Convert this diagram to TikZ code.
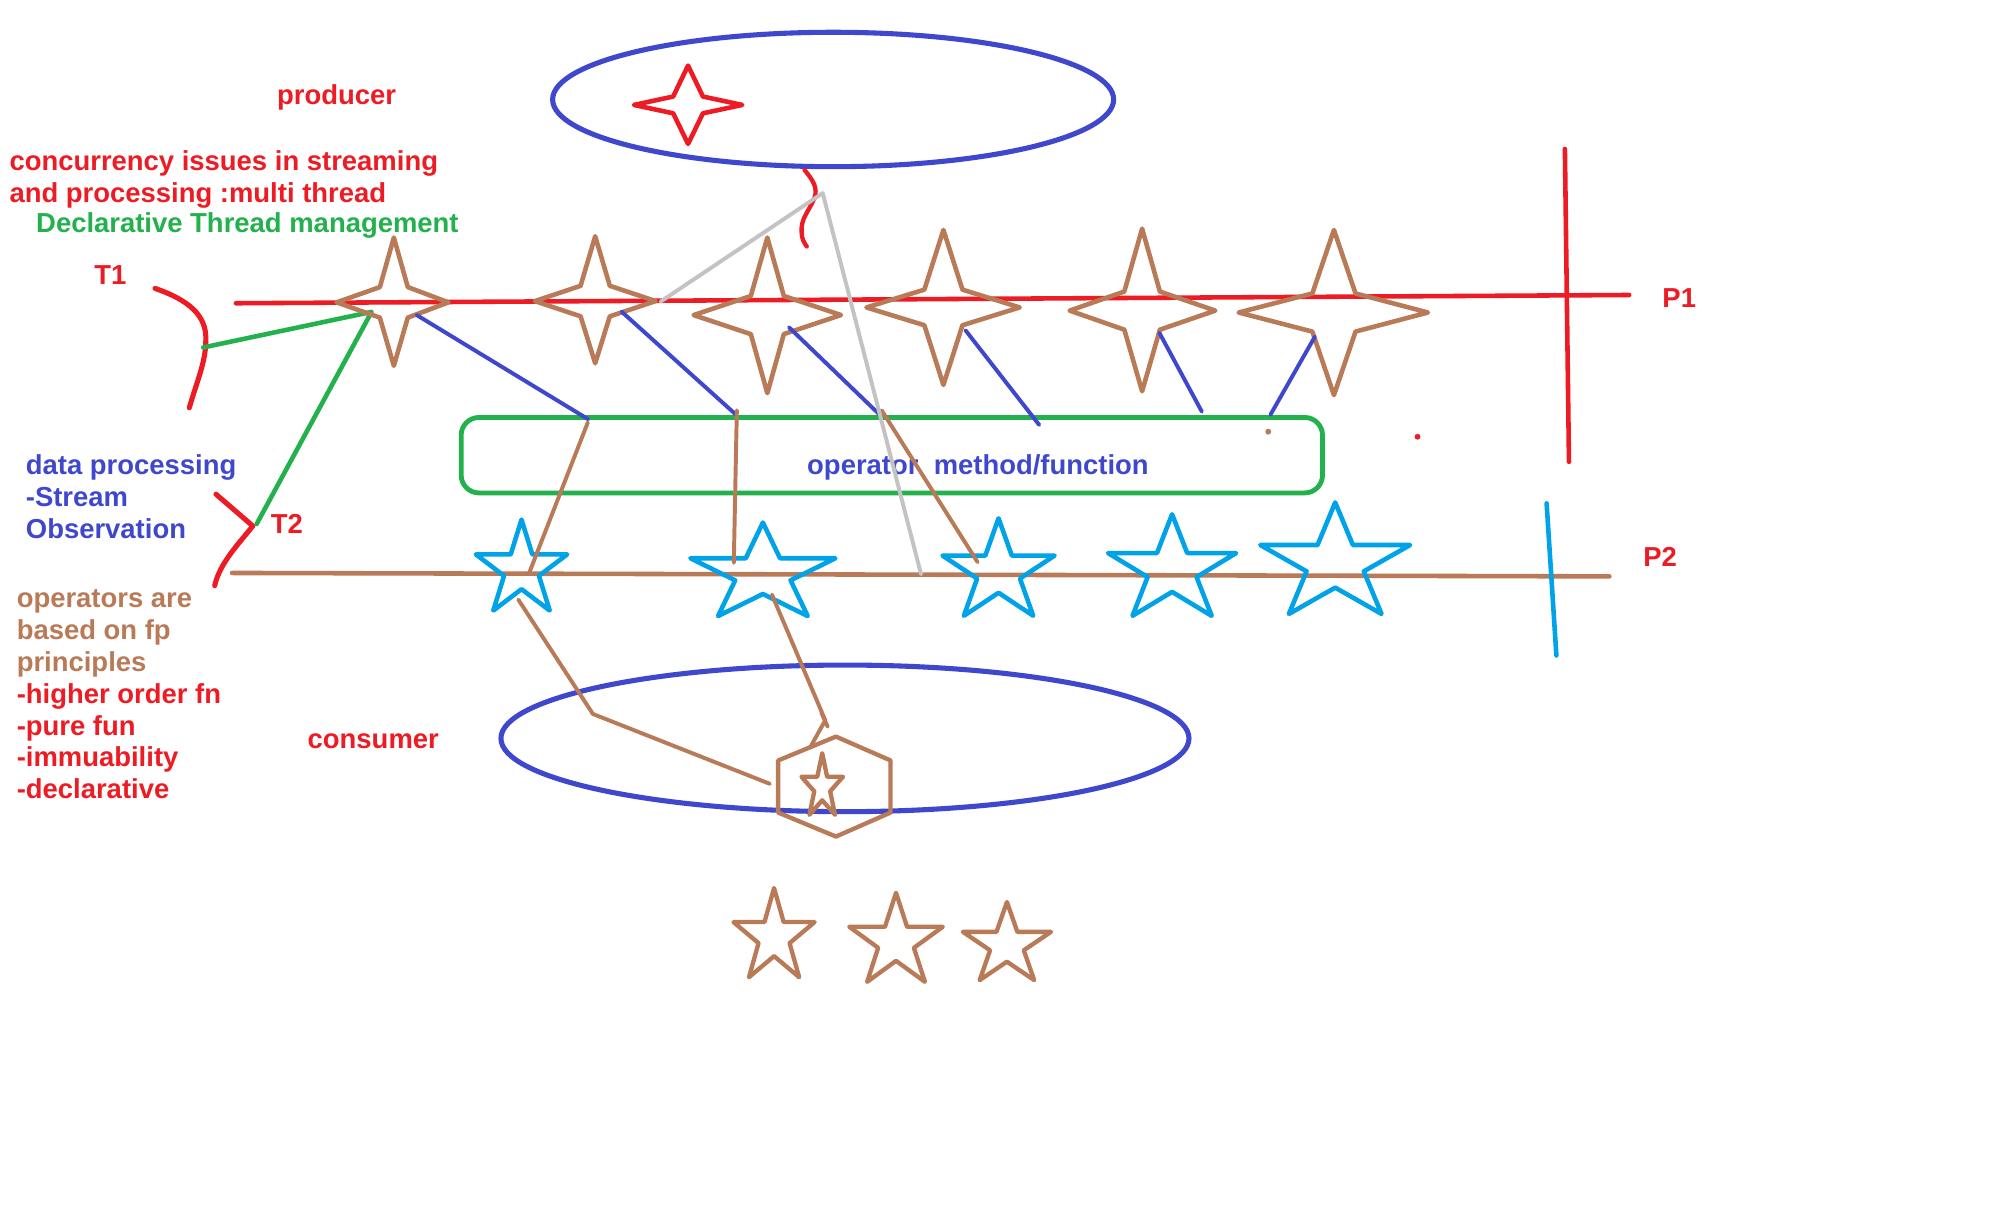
\documentclass[tikz,border=0pt]{standalone}
\usepackage{fontspec}
\setmainfont{Liberation Sans}
\usetikzlibrary{shapes.geometric}
\definecolor{pred}{HTML}{ED1C24}
\definecolor{pblue}{HTML}{3F48CC}
\definecolor{pgreen}{HTML}{22B14C}
\definecolor{pbrown}{HTML}{B97A57}
\definecolor{plblue}{HTML}{00A2E8}
\definecolor{pgray}{HTML}{C3C3C3}
\tikzset{
  pics/fourstar/.style args={#1/#2/#3/#4/#5/#6}{code={
    \draw (0,-#3) -- (#5,-#6) -- (#2,0) -- (#5,#6) -- (0,#4) -- (-#5,#6) -- (-#1,0) -- (-#5,-#6) -- cycle;
  }},
  pics/fivestar/.style args={#1/#2}{code={
    \draw (0,{-#2}) -- ({0.2245*#1},{-0.309*#2}) -- ({0.951*#1},{-0.309*#2})
      -- ({0.3633*#1},{0.118*#2}) -- ({0.588*#1},{0.809*#2}) -- (0,{0.382*#2})
      -- ({-0.588*#1},{0.809*#2}) -- ({-0.3633*#1},{0.118*#2}) -- ({-0.951*#1},{-0.309*#2})
      -- ({-0.2245*#1},{-0.309*#2}) -- cycle;
  }}
}
\begin{document}
\begin{tikzpicture}[x=1pt,y=-1pt,line cap=round,line join=round,
  txt/.style={inner sep=0pt,anchor=base west,font=\fontsize{21.6}{26}\selectfont\bfseries},
  thick line/.style={line width=3.6pt},
  thin line/.style={line width=3.1pt},
  oval/.style={ellipse,draw=pblue,line width=4pt,inner sep=0pt}]
\fill[white] (0,0) rectangle (1568,966);
\useasboundingbox (0,0) rectangle (1568,966);

% texts
\node[txt,text=pred] (tproducer) at (218,82.5) {producer};
\node[txt,text=pred] (tconc) at (7.3,134.3) {concurrency issues in streaming};
\node[txt,text=pred] (tandp) at (7.3,159.2) {and processing :multi thread};
\node[txt,text=pgreen] (tdecl) at (28.3,183.3) {Declarative Thread management};
\node[txt,text=pred] (tT1) at (74,224) {T1};
\node[txt,text=pred] (tP1) at (1308.4,242.3) {P1};
\node[txt,text=pblue] (tdata) at (20.2,373.4) {data processing};
\node[txt,text=pblue] (tstream) at (20.2,399) {-Stream};
\node[txt,text=pblue] (tobs) at (20.2,424) {Observation};
\node[txt,text=pred] (tT2) at (213,420) {T2};
\node[txt,text=pred] (tP2) at (1293.4,446.3) {P2};
\node[txt,text=pbrown] (tops1) at (13,477.8) {operators are};
\node[txt,text=pbrown] (tops2) at (13,503.5) {based on fp};
\node[txt,text=pbrown] (tops3) at (13,528.4) {principles};
\node[txt,text=pred] (thof) at (13,553.9) {-higher order fn};
\node[txt,text=pred] (tpure) at (13,578.8) {-pure fun};
\node[txt,text=pred] (timmu) at (13,603.2) {-immuability};
\node[txt,text=pred] (tdeclv) at (13,628.6) {-declarative};
\node[txt,text=pred] (tconsumer) at (242,589.3) {consumer};
\node[txt,text=pblue] (toper) at (635.2,373.3) {operator\ \ method/function};

% ellipses and operator box
\node[oval,minimum width=441.6pt,minimum height=105.8pt] (producer) at (655.8,78.3) {};
\node[oval,minimum width=541.6pt,minimum height=115.4pt] (consumer) at (665.1,581.2) {};
\node[draw=pgreen,line width=3.8pt,rounded corners=14pt,minimum width=678pt,minimum height=59.4pt,inner sep=0pt] (opbox) at (702,358.3) {};

% timelines
\coordinate (p1a) at (185.7,238.7);
\coordinate (p1b) at (1282.4,232.2);
\coordinate (p1t) at (1231.8,117.3);
\coordinate (p1u) at (1235,363.5);
\draw[pred,thick line] (p1a) -- (p1b);
\draw[pred,thick line] (p1t) -- (p1u);
\coordinate (p2a) at (182.7,451);
\coordinate (p2b) at (1266.8,453.7);
\coordinate (p2t) at (1217.4,396.2);
\coordinate (p2u) at (1225.1,516);
\draw[pbrown,thick line] (p2a) -- (p2b);
\draw[plblue,thick line] (p2t) -- (p2u);

% thread brackets
\coordinate (t1s) at (122,227);
\coordinate (t1m) at (162,268);
\coordinate (t1e) at (149,321);
\draw[pred,line width=4pt] (t1s) .. controls (148,236) and (163,248) .. (t1m)
   .. controls (162,285) and (155,300) .. (t1e);
\coordinate (t2s) at (170,389);
\coordinate (t2m) at (199,414);
\coordinate (t2e) at (169,461);
\draw[pred,line width=4pt] (t2s) -- (t2m) .. controls (188,428) and (173,443) .. (t2e);
\coordinate (rs0) at (633.3,133.8);
\coordinate (rs1) at (641,156);
\coordinate (rs2) at (631,183);
\coordinate (rs3) at (635,194);
\draw[pred,line width=3.4pt] (rs0) .. controls (640,142) and (644,148) .. (rs1)
   .. controls (637,166) and (630,172) .. (rs2) .. controls (631,188) and (633,191) .. (rs3);

% dots
\fill[pred] (1115.8,343.8) circle (2.3pt);
\fill[pbrown] (998.3,339.8) circle (2.3pt);

% green thread connectors
\coordinate (gr0) at (160,273.5);
\coordinate (gr1) at (292.5,245.5);
\coordinate (gr2) at (202,412.5);
\draw[pgreen,thick line] (gr0) -- (gr1) -- (gr2);

% producer star
\begin{scope}[pred,line width=3.6pt]
\pic (pstar) at (541.6,82.6) {fourstar=42.6/42.7/31/30.7/11.7/6.6};
\end{scope}

% P1 stars
\begin{scope}[pbrown,line width=3.6pt]
\pic (s1) at (310,238) {fourstar=45/43/51/50/11/12};
\pic (s2) at (468.5,237) {fourstar=47.5/47.5/51/49/11.5/12};
\pic (s3) at (604,248) {fourstar=58/58/61/61.5/13/15};
\pic (s4) at (742.6,242) {fourstar=60.6/60/61/61/15/14};
\pic (s5) at (899,244.5) {fourstar=57/57.6/64.5/63.5/14/15};
\pic (s6) at (1050,246) {fourstar=75/74/65/65/17/15};
\end{scope}

% P2 stars
\begin{scope}[plblue,line width=3.6pt]
\pic (qA) at (410.5,448.6) {fivestar=37.8/39.6};
\pic (qB) at (600.5,452) {fivestar=60/40.7};
\pic (qC) at (786,450.4) {fivestar=46.4/42.4};
\pic (qD) at (922.6,449) {fivestar=53/44.2};
\pic (qE) at (1051,444) {fivestar=62/48.5};
\end{scope}

% hexagon and results
\coordinate (hx1) at (658,579.8);
\coordinate (hx2) at (701,598.6);
\coordinate (hx3) at (701,639.6);
\coordinate (hx4) at (658,658.5);
\coordinate (hx5) at (612.5,639.6);
\coordinate (hx6) at (612.5,598.6);
\draw[pbrown,line width=3.4pt] (hx1) -- (hx2) -- (hx3) -- (hx4) -- (hx5) -- (hx6) -- cycle;
\begin{scope}[pbrown,line width=3.4pt]
\pic (hstar) at (647.2,619.7) {fivestar=17.2/26.8};
\pic (o1) at (609.3,737.8) {fivestar=33.6/38.8};
\pic (o2) at (705.3,741.5) {fivestar=38.7/38.75};
\pic (o3) at (792.6,744) {fivestar=36.5/34};
\end{scope}

% blue connectors P1 -> operator
\coordinate (b1a) at (328,248);     \coordinate (b1b) at (463,330);
\coordinate (b2a) at (489.3,245.3); \coordinate (b2b) at (580,327);
\coordinate (b3a) at (621,257.6);   \coordinate (b3b) at (693,327);
\coordinate (b4a) at (760,260);     \coordinate (b4b) at (818,334.5);
\coordinate (b5a) at (912.6,262);   \coordinate (b5b) at (946,324);
\coordinate (b6a) at (1035,265);    \coordinate (b6b) at (1000,326.5);
\begin{scope}[pblue,thin line]
\draw (b1a) -- (b1b);
\draw (b2a) -- (b2b);
\draw (b3a) -- (b3b);
\draw (b4a) -- (b4b);
\draw (b5a) -- (b5b);
\draw (b6a) -- (b6b);
\end{scope}

% brown connectors operator -> P2 -> consumer
\coordinate (r1a) at (462.7,332.5); \coordinate (r1b) at (416.7,450.6);
\coordinate (r2a) at (580,323);     \coordinate (r2b) at (577.6,443);
\coordinate (r3a) at (694,323);     \coordinate (r3b) at (769.5,442.5);
\coordinate (c1a) at (408,472);     \coordinate (c1b) at (466.7,562); \coordinate (c1c) at (606,617);
\coordinate (c2a) at (607.6,468);   \coordinate (c2b) at (649.6,567); \coordinate (c2c) at (637.5,588.7);
\coordinate (k1) at (646.5,561);    \coordinate (k2) at (651.5,572);
\begin{scope}[pbrown,thin line]
\draw (r1a) -- (r1b);
\draw (r2a) -- (r2b);
\draw (r3a) -- (r3b);
\draw (c1a) -- (c1b) -- (c1c);
\draw (c2a) -- (c2b) -- (c2c);
\draw (k1) -- (k2);
\end{scope}

% gray connector
\coordinate (g0) at (520,237.4);
\coordinate (g1) at (647.6,152);
\coordinate (g2) at (725,452);
\draw[pgray,thin line] (g0) -- (g1) -- (g2);
\end{tikzpicture}
\end{document}
